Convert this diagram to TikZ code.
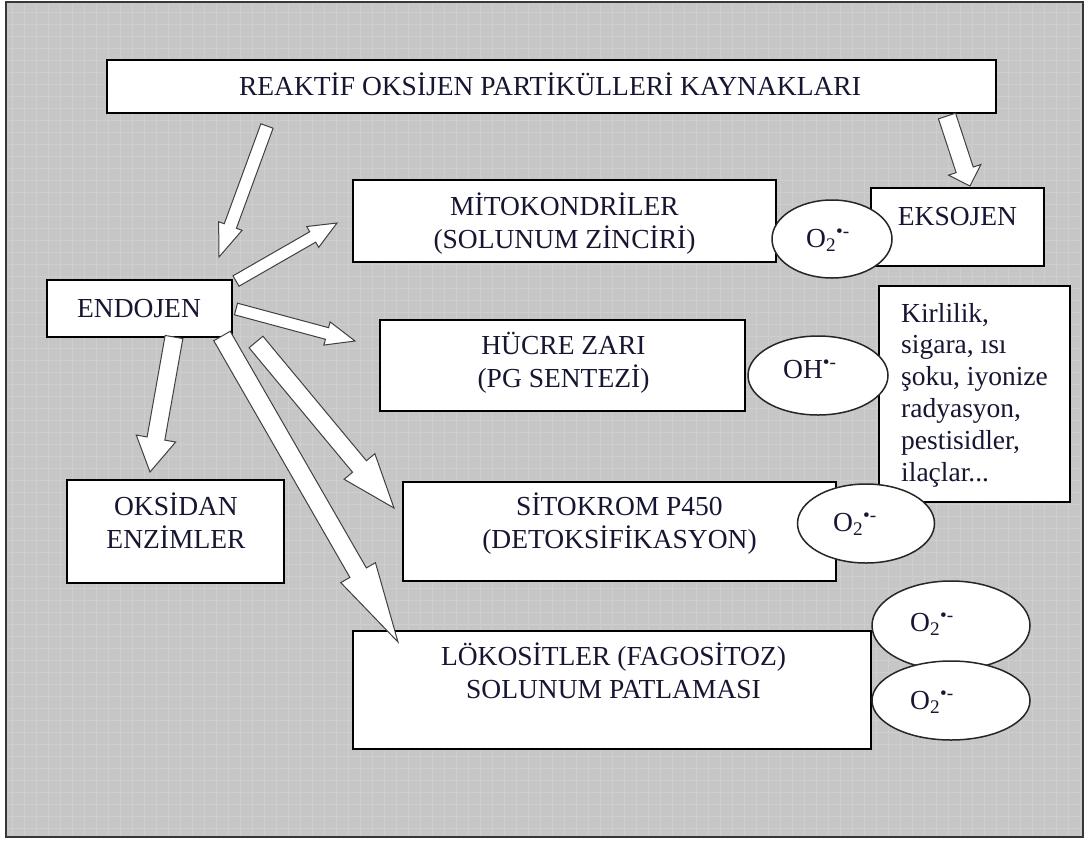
\documentclass[tikz,border=0pt]{standalone}
\usepackage{fontspec}
\setmainfont{Liberation Serif}
\usetikzlibrary{calc,shapes.geometric}
\definecolor{bggray}{RGB}{198,198,198}
\definecolor{gridgray}{RGB}{206,206,206}
\definecolor{framegray}{RGB}{55,55,55}
\definecolor{txtcol}{RGB}{22,22,50}
\newcommand\blockarr[5]{%
  \coordinate (hb) at ($(#2)!#5!(#1)$);
  \draw[barrow] ($(#1)!#3!90:(#2)$) -- ($(hb)!#3!90:(#2)$) -- ($(hb)!#4!90:(#2)$) -- (#2)
    -- ($(hb)!#4!-90:(#2)$) -- ($(hb)!#3!-90:(#2)$) -- ($(#1)!#3!-90:(#2)$) -- cycle;}
\begin{document}
\begin{tikzpicture}[x=1pt,y=-1pt,
  box/.style={draw=black, line width=2pt, fill=white, rectangle, inner sep=0pt},
  oval/.style={draw=black!85, line width=1.5pt, fill=white, ellipse, inner sep=0pt},
  barrow/.style={draw=black!75, line width=1pt, fill=white, line join=miter},
  lbl/.style={inner sep=0pt, align=center, text=txtcol, font=\fontsize{27.5}{32.5}\selectfont},
  lbll/.style={inner sep=0pt, align=left, text=txtcol, font=\fontsize{27.5}{31.8}\selectfont},
  gridline/.style={draw=gridgray, line width=0.6pt}]
\useasboundingbox (0,0) rectangle (1084,841);
\fill[white] (0,0) rectangle (1084,841);
\fill[bggray] (6,2) rectangle (1083,837);
\foreach \gx in {12,24,...,1080} {\draw[gridline] (\gx,2) -- (\gx,837);}
\foreach \gy in {12,24,...,836} {\draw[gridline] (6,\gy) -- (1083,\gy);}
\draw[draw=framegray, line width=2.2pt] (6,2) rectangle (1083,837);

% boxes
\node[box, minimum width=889, minimum height=53] (title) at (551.5,86.5) {};
\node[box, minimum width=423, minimum height=82] (mito) at (564.5,221) {};
\node[box, minimum width=173, minimum height=78] (eks) at (957.5,227) {};
\node[box, minimum width=191, minimum height=216] (kir) at (974.5,394) {};
\node[box, minimum width=365, minimum height=91] (hucre) at (562.5,365.5) {};
\node[box, minimum width=433, minimum height=99] (sito) at (619.5,531.5) {};
\node[box, minimum width=518, minimum height=118] (loko) at (612,690) {};
\node[box, minimum width=185, minimum height=57] (endo) at (139.5,308.5) {};
\node[box, minimum width=217, minimum height=103] (oks) at (175.5,531.5) {};

% arrow end points
\coordinate (a1s) at (267,126);  \coordinate (a1e) at (219,257);
\coordinate (a2s) at (947,116);  \coordinate (a2e) at (970,186);
\coordinate (a3s) at (236,281);  \coordinate (a3e) at (337,223);
\coordinate (a4s) at (236,309);  \coordinate (a4e) at (355,341);
\coordinate (a5s) at (174,337);  \coordinate (a5e) at (150,472);
\coordinate (a6s) at (256,342);  \coordinate (a6e) at (394,508);
\coordinate (a7s) at (222,336);  \coordinate (a7e) at (398,642);

\blockarr{a1s}{a1e}{6.5pt}{12.5pt}{33pt}
\blockarr{a2s}{a2e}{9pt}{17pt}{17pt}
\blockarr{a3s}{a3e}{6pt}{12pt}{28pt}
\blockarr{a4s}{a4e}{6pt}{12pt}{29pt}
\blockarr{a5s}{a5e}{9pt}{20pt}{34pt}
\blockarr{a6s}{a6e}{9pt}{20pt}{54pt}
\blockarr{a7s}{a7e}{9.5pt}{20pt}{80pt}

% ellipses
\node[oval, minimum width=120, minimum height=78] (o1) at (832,239) {};
\node[oval, minimum width=140, minimum height=79] (oh) at (818,375.5) {};
\node[oval, minimum width=137, minimum height=79] (o3) at (866,523.5) {};
\node[oval, minimum width=158, minimum height=89] (o4) at (951,625.5) {};
\node[oval, minimum width=158, minimum height=79] (o5) at (951,700.5) {};

% texts (base anchor = baseline of last line)
\node[lbl, anchor=base] (title-t) at (550,95) {REAKTİF OKSİJEN PARTİKÜLLERİ KAYNAKLARI};
\node[lbl, anchor=base] (mito-t) at (564.5,248) {MİTOKONDRİLER\\(SOLUNUM ZİNCİRİ)};
\node[lbl, anchor=base] (eks-t) at (957.5,225) {EKSOJEN};
\node[lbll, anchor=base west] (kir-t) at (901,481) {Kirlilik,\\sigara, ısı\\şoku, iyonize\\radyasyon,\\pestisidler,\\ilaçlar...};
\node[lbl, anchor=base] (hucre-t) at (563.5,387) {HÜCRE ZARI\\(PG SENTEZİ)};
\node[lbl, anchor=base] (sito-t) at (619.5,548) {SİTOKROM P450\\(DETOKSİFİKASYON)};
\node[lbl, anchor=base] (loko-t) at (613.5,698) {LÖKOSİTLER (FAGOSİTOZ)\\SOLUNUM PATLAMASI};
\node[lbl, anchor=base] (endo-t) at (139,317) {ENDOJEN};
\node[lbl, anchor=base] (oks-t) at (176,548) {OKSİDAN\\ENZİMLER};

\node[lbl, anchor=base west] (o1-t) at (806,247) {O\textsubscript{2}\textsuperscript{•-}};
\node[lbl, anchor=base west] (oh-t) at (783,378) {OH\textsuperscript{•-}};
\node[lbl, anchor=base west] (o3-t) at (833,531) {O\textsubscript{2}\textsuperscript{•-}};
\node[lbl, anchor=base west] (o4-t) at (910,631) {O\textsubscript{2}\textsuperscript{•-}};
\node[lbl, anchor=base west] (o5-t) at (910,709) {O\textsubscript{2}\textsuperscript{•-}};
\end{tikzpicture}
\end{document}
